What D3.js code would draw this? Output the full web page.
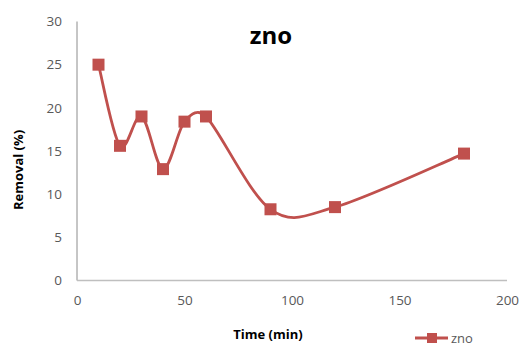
<!DOCTYPE html>
<html>
<head>
<meta charset="utf-8">
<script src="https://cdn.jsdelivr.net/npm/d3@7"></script>
<style>
  html, body { margin: 0; padding: 0; background: #fff; }
  svg { display: block; font-family: "Open Sans", "Liberation Sans", sans-serif; }
</style>
</head>
<body>
<svg id="chart" width="520" height="346"></svg>
<script>
// Removal efficiency of ZnO over contact time
const times = [10, 20, 30, 40, 50, 60, 90, 120, 180];
const removal = [25, 15.6, 19, 12.9, 18.4, 19, 8.25, 8.5, 14.7];
const xTicks = [0, 50, 100, 150, 200];
const yTicks = [0, 5, 10, 15, 20, 25, 30];
const seriesName = "zno";

const color = "#C0504D";
const svg = d3.select("#chart");

const x = d3.scaleLinear().domain([0, 200]).range([77, 507]);
const y = d3.scaleLinear().domain([0, 30]).range([280.5, 21.5]);

// Spreadsheet-style smoothed line: cubic Bezier segments whose control arms
// are 1/6 of the neighbour chord, capped at half the segment length.
function smoothCurve(context) {
  let pts = [];
  const dist = (a, b) => Math.hypot(b[0] - a[0], b[1] - a[1]);
  return {
    areaStart() {}, areaEnd() {},
    lineStart() { pts = []; },
    point(px, py) { pts.push([+px, +py]); },
    lineEnd() {
      const n = pts.length;
      if (!n) return;
      context.moveTo(pts[0][0], pts[0][1]);
      for (let i = 0; i < n - 1; i++) {
        const p0 = pts[Math.max(i - 1, 0)], p1 = pts[i], p2 = pts[i + 1], p3 = pts[Math.min(i + 2, n - 1)];
        const d12 = dist(p1, p2), d02 = dist(p0, p2), d13 = dist(p1, p3);
        let f1 = 1 / 6, f2 = 1 / 6;
        if (d02 > 0 && d02 / 6 > d12 / 2) f1 = (d12 / 2) / d02;
        if (d13 > 0 && d13 / 6 > d12 / 2) f2 = (d12 / 2) / d13;
        const c1 = [p1[0] + (p2[0] - p0[0]) * f1, p1[1] + (p2[1] - p0[1]) * f1];
        const c2 = [p2[0] - (p3[0] - p1[0]) * f2, p2[1] - (p3[1] - p1[1]) * f2];
        context.bezierCurveTo(c1[0], c1[1], c2[0], c2[1], p2[0], p2[1]);
      }
    }
  };
}

// axis lines
svg.append("line")
  .attr("x1", x(0)).attr("x2", x(0))
  .attr("y1", y(30)).attr("y2", y(0))
  .attr("stroke", "#8c8c8c").attr("stroke-width", 1);
svg.append("line")
  .attr("x1", x(0)).attr("x2", x(200))
  .attr("y1", y(0)).attr("y2", y(0))
  .attr("stroke", "#bfbfbf").attr("stroke-width", 1.5);

// tick labels
const tickFont = g => g.selectAll("text")
  .attr("fill", "#595959")
  .style("font-size", "13.5px")
  .attr("font-family", "Open Sans, Liberation Sans, sans-serif");

const yAxis = d3.axisLeft(y).tickValues(yTicks).tickSize(0).tickPadding(15);
svg.append("g").attr("transform", `translate(${x(0)},0)`).call(yAxis)
  .call(g => g.select(".domain").remove())
  .call(tickFont);

const xAxis = d3.axisBottom(x).tickValues(xTicks).tickSize(0).tickPadding(15);
svg.append("g").attr("transform", `translate(0,${y(0)})`).call(xAxis)
  .call(g => g.select(".domain").remove())
  .call(tickFont);

// smoothed series line
const data = times.map((t, i) => ({ t, v: removal[i] }));
const line = d3.line()
  .x(d => x(d.t)).y(d => y(d.v))
  .curve(smoothCurve);
svg.append("path")
  .datum(data)
  .attr("d", line)
  .attr("fill", "none")
  .attr("stroke", color)
  .attr("stroke-width", 2.8);

// square markers
const ms = 12;
svg.selectAll("rect.marker")
  .data(data)
  .enter().append("rect")
  .attr("class", "marker")
  .attr("x", d => x(d.t) - ms / 2)
  .attr("y", d => y(d.v) - ms / 2)
  .attr("width", ms).attr("height", ms)
  .attr("fill", color);

// title
svg.append("text")
  .attr("x", 271).attr("y", 44)
  .attr("text-anchor", "middle")
  .style("font-size", "24px").style("font-weight", "bold")
  .attr("fill", "#000")
  .text(seriesName);

// axis titles
svg.append("text")
  .attr("transform", "translate(23,170) rotate(-90)")
  .attr("text-anchor", "middle")
  .style("font-size", "13px").style("font-weight", "bold")
  .attr("fill", "#000")
  .text("Removal (%)");

svg.append("text")
  .attr("x", 268).attr("y", 339)
  .attr("text-anchor", "middle")
  .style("font-size", "13px").style("font-weight", "bold")
  .attr("fill", "#000")
  .text("Time (min)");

// legend
const lg = svg.append("g");
lg.append("line")
  .attr("x1", 415).attr("x2", 448).attr("y1", 338).attr("y2", 338)
  .attr("stroke", color).attr("stroke-width", 2.8);
lg.append("rect")
  .attr("x", 432 - 5).attr("y", 338 - 5).attr("width", 10).attr("height", 10)
  .attr("fill", color);
lg.append("text")
  .attr("x", 451).attr("y", 343)
  .style("font-size", "13px")
  .attr("fill", "#595959")
  .text(seriesName);
</script>
</body>
</html>
